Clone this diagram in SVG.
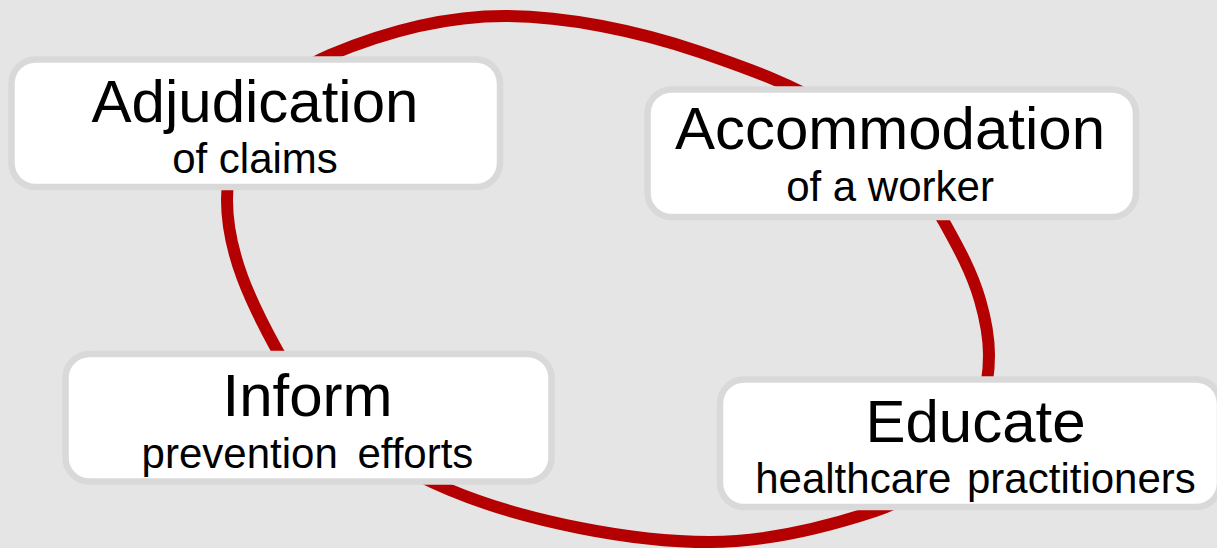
<svg xmlns="http://www.w3.org/2000/svg" width="1217" height="548" viewBox="0 0 1217 548">
  <style>
    .bg { fill: #e5e5e5; }
    .ring { fill: none; stroke: #b40000; stroke-width: 12; }
    .box { fill: #ffffff; stroke: #d9d9d9; stroke-width: 6.5; }
    .title { font-family: "Liberation Sans", Arial, sans-serif; font-size: 60px; fill: #000000; text-anchor: middle; }
    .sub { font-family: "Liberation Sans", Arial, sans-serif; font-size: 42px; fill: #000000; text-anchor: middle; }
  </style>

  <rect class="bg" x="0" y="0" width="1217" height="548"/>

  <!-- the cycle ring linking the four stages -->
  <g id="connectors">
    <path class="ring" d="M227,200
      C227,135 274.7,78.2 330,55
      C385.3,31.8 445,16 505,16
      C565,16 637.5,30.7 700,52
      C724.6,60.4 749,68.9 773,79
      C842.2,108 906.5,154.4 943,220
      C957.6,246.2 971.7,271.2 980,300
      C985.3,318.3 989,336 989,355
      C989,428 941.5,489.1 875,511
      C821.8,528.5 766,542 710,542
      C666,542 623.1,536.6 580,528
      C535.9,519.2 491.5,507.4 450,490
      C380.8,461 313.2,415.7 277,350
      C251.5,303.6 227,253 227,200 Z"/>
  </g>

  <g id="adjudication">
    <rect class="box" x="11.5" y="59.5" width="488.5" height="127.5" rx="24"/>
    <text class="title" x="255" y="122">Adjudication</text>
    <text class="sub" x="255" y="173">of claims</text>
  </g>

  <g id="accommodation">
    <rect class="box" x="647.5" y="89.5" width="488.5" height="127.5" rx="24"/>
    <text class="title" x="890" y="149">Accommodation</text>
    <text class="sub" x="890" y="201">of a worker</text>
  </g>

  <g id="inform">
    <rect class="box" x="65.5" y="354" width="486" height="127.5" rx="24"/>
    <text class="title" x="307.5" y="416">Inform</text>
    <text class="sub" x="307.5" y="468" word-spacing="8">prevention efforts</text>
  </g>

  <g id="educate">
    <rect class="box" x="720" y="379.5" width="500" height="127.5" rx="24"/>
    <text class="title" x="975.5" y="442">Educate</text>
    <text class="sub" x="975.5" y="493" word-spacing="4">healthcare practitioners</text>
  </g>
</svg>
